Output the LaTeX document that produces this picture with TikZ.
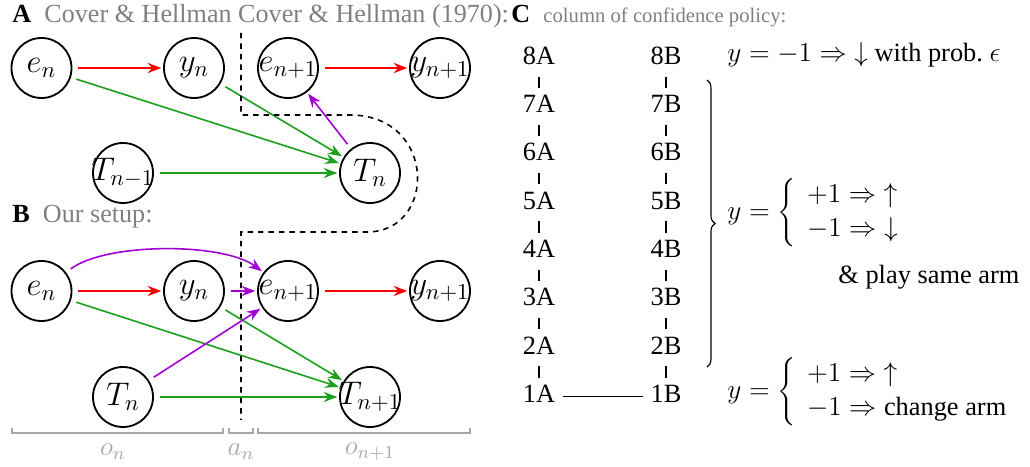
\documentclass[tikz,border=0pt]{standalone}
\usepackage[no-math]{fontspec}
\setmainfont{Liberation Serif}
\usepackage{xcolor}
\usepackage{tikz}
\usetikzlibrary{arrows.meta,decorations.pathreplacing,calc}
\definecolor{causered}{HTML}{FF0000}
\definecolor{causegreen}{HTML}{1CA01C}
\definecolor{causepurple}{HTML}{A300D6}
\definecolor{titlegray}{HTML}{808080}
\definecolor{spangray}{HTML}{A8A8A8}
\newcommand{\policysize}{\fontsize{11.6}{14}\selectfont}

\begin{document}
\begin{tikzpicture}[x=0.44pt, y=-0.44pt,
  var/.style={draw, circle, line width=0.8pt, minimum size=26.4pt, inner sep=0pt, font=\Large},
  edge/.style={-{Stealth[length=6pt,width=4.5pt]}, line width=0.7pt, shorten <=2.5pt, shorten >=0.8pt},
  panel/.style={anchor=base west, inner sep=0pt, font=\fontsize{11.5}{14}\selectfont, text=titlegray},
  state/.style={font=\policysize, text height=7.7pt, text depth=2.2pt, inner xsep=3.5pt, inner ysep=3.2pt, outer sep=0pt},
  rule/.style={anchor=west, inner sep=0pt, font=\policysize},
  span/.style={spangray, line width=0.8pt},
  ]
  \useasboundingbox (0,0) rectangle (1030,467);

  % A: Cover & Hellman
  \node[panel] (ta) at (12,23) {\textcolor{black}{\textbf{A}}\enspace Cover \& Hellman Cover \& Hellman (1970):};
  \node[var] (en1) at (41.5,68) {$e_n$};
  \node[var] (yn1) at (194,68) {$y_n$};
  \node[var] (enp1) at (288,68) {\makebox[0pt]{$e_{n+1}$}};
  \node[var] (ynp1) at (440,68) {\makebox[0pt]{$y_{n+1}$}};
  \node[var] (tnm1) at (123,173) {\makebox[0pt]{$T_{n-1}$}};
  \node[var] (tn1) at (370,173) {$T_n$};
  \draw[edge, causered] (en1) -- (yn1);
  \draw[edge, causered] (enp1) -- (ynp1);
  \draw[edge, causegreen] (en1) -- (tn1);
  \draw[edge, causegreen] (yn1) -- (tn1);
  \draw[edge, causegreen] (tnm1) -- (tn1);
  \draw[edge, causepurple] (tn1) -- (enp1);

  % time cut
  \draw[line width=0.7pt, dash pattern=on 2.4pt off 2.2pt]
    (241,33) -- (241,115) -- (350,115) .. controls (437,115) and (437,232) .. (367,232)
    -- (241,232) -- (241,420);

  % B: our setup
  \node[panel] (tb) at (12,223) {\textcolor{black}{\textbf{B}}\enspace Our setup:};
  \node[var] (en2) at (41.5,291) {$e_n$};
  \node[var] (yn2) at (194,291) {$y_n$};
  \node[var] (enp2) at (288,291) {\makebox[0pt]{$e_{n+1}$}};
  \node[var] (ynp2) at (440,291) {\makebox[0pt]{$y_{n+1}$}};
  \node[var] (tn2) at (123,397) {$T_n$};
  \node[var] (tnp2) at (370,397) {\makebox[0pt]{$T_{n+1}$}};
  \draw[edge, causepurple] (en2) to[out=37, in=143, looseness=0.65] (enp2);
  \draw[edge, causered] (en2) -- (yn2);
  \draw[edge, causepurple] (yn2) -- (enp2);
  \draw[edge, causered] (enp2) -- (ynp2);
  \draw[edge, causegreen] (en2) -- (tnp2);
  \draw[edge, causegreen] (yn2) -- (tnp2);
  \draw[edge, causepurple] (tn2) -- (enp2);
  \draw[edge, causegreen] (tn2) -- (tnp2);

  % observation / action spans
  \draw[span] (12,428) -- (12,433) -- (223,433) -- (223,428);
  \draw[span] (229,428) -- (229,433) -- (253,433) -- (253,428);
  \draw[span] (258,428) -- (258,433) -- (470,433) -- (470,428);
  \node[text=spangray, font=\large] (on) at (113,452) {$o_n$};
  \node[text=spangray, font=\large] (an) at (241,452) {$a_n$};
  \node[text=spangray, font=\large] (onp) at (370,452) {$o_{n+1}$};

  % C: confidence policy
  \node[panel] (tc) at (511,23) {\textcolor{black}{\textbf{C}}\enspace{\fontsize{9.1}{11}\selectfont column of confidence policy:}};
  \foreach \i in {1,...,8} {
    \node[state] (a\i) at (539,{58+(8-\i)*48.3}) {\i A};
    \node[state] (b\i) at (666,{58+(8-\i)*48.3}) {\i B};
  }
  \foreach \i in {2,...,8} {
    \pgfmathtruncatemacro\j{\i-1}
    \draw[line width=0.5pt] (a\i) -- (a\j);
    \draw[line width=0.5pt] (b\i) -- (b\j);
  }
  \draw[line width=0.5pt] (a1) -- (b1);
  \draw[line width=0.5pt, decorate, decoration={brace, amplitude=3.5pt}] (707,80) -- (707,367);

  \node[rule] (rtop) at (727,55) {$y = -1 \Rightarrow\; \downarrow$ with prob.\ $\epsilon$};
  \node[rule] (rmid) at (727,213)
    {$y = \left\{\renewcommand{\arraystretch}{1.05}\begin{array}{l} +1 \Rightarrow\; \uparrow \\ -1 \Rightarrow\; \downarrow \end{array}\right.$};
  \node[rule] (rsame) at (838,277) {\& play same arm};
  \node[rule] (rlow) at (727,392)
    {$y = \left\{\renewcommand{\arraystretch}{1.05}\begin{array}{l} +1 \Rightarrow\; \uparrow \\ -1 \Rightarrow \mbox{change arm} \end{array}\right.$};
\end{tikzpicture}
\end{document}
